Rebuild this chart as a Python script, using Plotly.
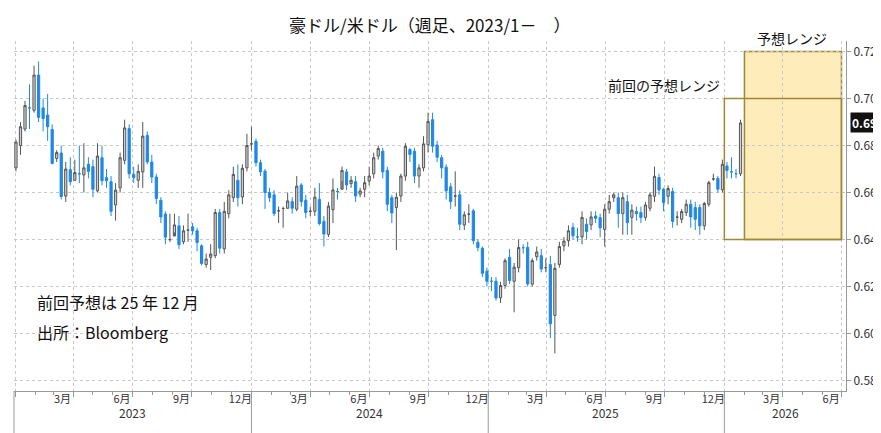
import pandas as pd
import plotly.graph_objects as go

start = "2023-01-02"
opens = [0.6705,0.680,0.687,0.696,0.695,0.710,0.696,0.693,0.6868,0.6745,0.6768,0.6585,0.6697,0.6652,0.668,0.6675,0.672,0.671,0.6607,0.6748,
0.6663,0.6646,0.6547,0.662,0.6737,0.6872,0.6677,0.6652,0.6688,0.6843,0.673,0.6666,0.6567,0.6508,0.6399,0.6415,0.6458,0.6390,0.644,0.6454,
0.6437,0.6373,0.6293,0.6324,0.6331,0.6515,0.636,0.651,0.6578,0.6652,0.6581,0.6705,0.6807,0.6818,0.6727,0.6691,0.660,0.659,0.6522,0.6532,
0.6533,0.6561,0.6529,0.6632,0.6567,0.652,0.652,0.6571,0.6477,0.6422,0.6527,0.6604,0.6614,0.6688,0.6638,0.6646,0.6593,0.6614,0.6649,0.668,
0.6755,0.6776,0.6694,0.6578,0.6536,0.6585,0.667,0.6783,0.6776,0.667,0.6705,0.6803,0.691,0.6802,0.6748,0.6708,0.6624,0.6585,0.659,0.6462,
0.6508,0.6522,0.6388,0.6363,0.6265,0.6222,0.6222,0.6152,0.6204,0.6324,0.6222,0.628,0.6365,0.6366,0.621,0.6327,0.6331,0.628,0.6293,0.6077,
0.6294,0.6373,0.6395,0.6451,0.6411,0.6411,0.6465,0.6462,0.6500,0.6493,0.6443,0.6529,0.6578,0.6578,0.651,0.6561,0.6494,0.6519,0.6515,0.6494,
0.6533,0.6584,0.6664,0.6614,0.6584,0.6604,0.6495,0.6486,0.6515,0.655,0.6536,0.6536,0.6458,0.655,0.6658,0.666,0.6612,0.6713,0.6688,0.668,0.668]
closes = [0.6815,0.688,0.697,0.696,0.710,0.692,0.6915,0.688,0.6724,0.677,0.6583,0.670,0.6646,0.6685,0.668,0.6705,0.669,0.6614,0.6755,0.665,
0.665,0.652,0.661,0.6748,0.6875,0.668,0.6663,0.669,0.684,0.673,0.6666,0.6575,0.6496,0.641,0.640,0.6462,0.6378,0.6437,0.644,0.6437,
0.6387,0.6298,0.6317,0.6338,0.6515,0.6363,0.652,0.659,0.6677,0.6578,0.6703,0.680,0.6807,0.6727,0.6688,0.660,0.6578,0.651,0.6522,0.6532,
0.6564,0.6533,0.6627,0.6561,0.6515,0.652,0.658,0.6468,0.6423,0.6542,0.6611,0.6604,0.6694,0.6632,0.6652,0.6585,0.6607,0.6642,0.667,0.6748,
0.6787,0.6688,0.655,0.6513,0.658,0.667,0.6797,0.6762,0.667,0.6705,0.6807,0.6903,0.6797,0.675,0.6705,0.6607,0.6561,0.6585,0.6465,0.6505,
0.6508,0.6395,0.6366,0.6256,0.6222,0.6222,0.6151,0.6204,0.631,0.6225,0.6282,0.6366,0.6365,0.6211,0.631,0.6347,0.6274,0.628,0.6041,0.6277,
0.637,0.6393,0.6437,0.6416,0.6411,0.6494,0.6434,0.6496,0.649,0.645,0.6529,0.6561,0.659,0.651,0.6578,0.6472,0.6525,0.651,0.6494,0.6547,
0.659,0.6669,0.6611,0.6557,0.6617,0.6477,0.6495,0.6519,0.655,0.6496,0.6486,0.6458,0.6553,0.6642,0.6658,0.6614,0.672,0.6694,0.6688,0.668,0.6896]
highs = [0.6825,0.690,0.699,0.706,0.714,0.7158,0.700,0.702,0.689,0.678,0.680,0.673,0.675,0.674,0.680,0.681,0.675,0.674,0.681,0.680,
0.670,0.667,0.664,0.677,0.691,0.689,0.671,0.672,0.690,0.686,0.676,0.668,0.658,0.652,0.651,0.651,0.650,0.646,0.651,0.647,
0.645,0.638,0.634,0.638,0.653,0.653,0.656,0.661,0.671,0.672,0.672,0.685,0.688,0.683,0.674,0.670,0.662,0.661,0.654,0.654,
0.660,0.658,0.667,0.664,0.659,0.654,0.662,0.664,0.650,0.656,0.666,0.662,0.671,0.670,0.667,0.667,0.662,0.667,0.671,0.677,
0.680,0.679,0.671,0.659,0.660,0.668,0.681,0.679,0.679,0.672,0.684,0.694,0.694,0.682,0.676,0.672,0.664,0.669,0.661,0.652,
0.655,0.653,0.640,0.637,0.628,0.624,0.624,0.622,0.632,0.636,0.630,0.640,0.638,0.639,0.632,0.637,0.636,0.632,0.633,0.630,
0.639,0.641,0.646,0.647,0.645,0.652,0.649,0.652,0.652,0.651,0.655,0.659,0.660,0.660,0.660,0.659,0.655,0.654,0.654,0.656,
0.660,0.671,0.668,0.662,0.663,0.662,0.652,0.653,0.657,0.657,0.656,0.655,0.656,0.665,0.668,0.667,0.674,0.673,0.675,0.670,0.691]
lows = [0.669,0.676,0.686,0.687,0.694,0.690,0.686,0.682,0.672,0.673,0.657,0.656,0.663,0.665,0.664,0.660,0.666,0.658,0.660,0.663,
0.662,0.650,0.648,0.660,0.672,0.666,0.664,0.662,0.662,0.672,0.664,0.655,0.647,0.638,0.639,0.643,0.636,0.638,0.639,0.642,
0.635,0.629,0.628,0.627,0.632,0.634,0.634,0.649,0.656,0.654,0.655,0.669,0.678,0.671,0.667,0.653,0.656,0.650,0.647,0.645,
0.653,0.651,0.652,0.654,0.649,0.650,0.650,0.646,0.637,0.641,0.647,0.657,0.665,0.661,0.662,0.656,0.658,0.658,0.663,0.666,
0.674,0.666,0.652,0.647,0.6355,0.656,0.665,0.673,0.664,0.662,0.669,0.677,0.677,0.673,0.666,0.657,0.653,0.654,0.644,0.644,
0.647,0.638,0.635,0.624,0.620,0.618,0.614,0.613,0.619,0.621,0.609,0.626,0.634,0.620,0.620,0.631,0.626,0.626,0.598,0.5915,
0.628,0.635,0.637,0.640,0.639,0.638,0.640,0.644,0.647,0.641,0.637,0.651,0.656,0.645,0.642,0.642,0.642,0.648,0.647,0.648,
0.652,0.656,0.659,0.652,0.655,0.645,0.646,0.647,0.650,0.645,0.644,0.642,0.644,0.654,0.665,0.660,0.660,0.666,0.666,0.666,0.667]
dates = pd.date_range(start, periods=len(opens), freq="7D")

prev_range = [0.64, 0.70]
new_range = [0.64, 0.72]
last_label = "0.69"
month_labels = ["3月", "6月", "9月", "12月"]
years = [2023, 2024, 2025, 2026]
year_label_pos = ["2023-07-01", "2024-07-01", "2025-07-01", "2026-04-05"]

fig = go.Figure()
fig.add_trace(go.Candlestick(
    x=dates, open=opens, high=highs, low=lows, close=closes,
    increasing=dict(fillcolor="#d0d0d0", line=dict(color="#555555", width=1)),
    decreasing=dict(fillcolor="#1e88e5", line=dict(color="#1e88e5", width=1)),
    whiskerwidth=0, showlegend=False, hoverinfo="skip"))

font = "Noto Sans CJK JP"
shapes = [
    dict(type="rect", xref="x", yref="y", x0="2026-02-01", x1="2026-07-01",
         y0=new_range[0], y1=new_range[1], fillcolor="rgba(253,226,150,0.65)",
         line=dict(color="#a0883a", width=1.5), layer="below"),
    dict(type="rect", xref="x", yref="y", x0="2026-01-01", x1="2026-07-01",
         y0=prev_range[0], y1=prev_range[1], fillcolor="rgba(0,0,0,0)",
         line=dict(color="#a0883a", width=1.5)),
]
for y in years[1:]:
    shapes.append(dict(type="line", xref="x", yref="paper", x0=f"{y}-01-01", x1=f"{y}-01-01",
                       y0=-0.13, y1=0, line=dict(color="#999", width=1)))
shapes.append(dict(type="line", xref="paper", yref="paper", x0=0, x1=0, y0=-0.13, y1=0,
                   line=dict(color="#999", width=1)))

ann = [
    dict(text="豪ドル/米ドル（週足、2023/1－　）", x=0.5, y=1.005, xref="paper", yref="paper",
         xanchor="center", yanchor="bottom", showarrow=False, font=dict(size=17, color="#111")),
    dict(text="予想レンジ", x="2026-04-15", y=0.7205, xref="x", yref="y",
         xanchor="center", yanchor="bottom", showarrow=False, font=dict(size=14, color="#111")),
    dict(text="前回の予想レンジ", x="2025-12-28", y=0.7005, xref="x", yref="y",
         xanchor="right", yanchor="bottom", showarrow=False, font=dict(size=14, color="#111")),
    dict(text="前回予想は 25 年 12 月", x=0.025, y=0.215, xref="paper", yref="paper",
         xanchor="left", showarrow=False, font=dict(size=16, color="#111")),
    dict(text="出所：Bloomberg", x=0.025, y=0.13, xref="paper", yref="paper",
         xanchor="left", showarrow=False, font=dict(size=16, color="#111")),
    dict(text="<b>" + last_label + "</b>", x=1.005, y=closes[-1], xref="paper", yref="y",
         xanchor="left", showarrow=False, bgcolor="#111", font=dict(size=12, color="white"),
         borderpad=1),
]
for y, p in zip(years, year_label_pos):
    ann.append(dict(text=str(y), x=p, y=-0.09, xref="x", yref="paper",
                    showarrow=False, font=dict(size=12, color="#333")))

label_vals, label_txt = [], []
for y in years:
    for m, t in zip([3, 6, 9, 12], month_labels):
        d = pd.Timestamp(f"{y}-{m:02d}-15")
        if d < pd.Timestamp("2026-07-05"):
            label_vals.append(d); label_txt.append(t)

xr = ["2022-12-30", "2026-07-08"]
fig.update_layout(
    width=881, height=433, margin=dict(l=6, r=43, t=33, b=50),
    paper_bgcolor="white", plot_bgcolor="white",
    font=dict(family=font, size=11, color="#333"),
    shapes=shapes, annotations=ann,
    xaxis=dict(type="date", range=xr, rangeslider=dict(visible=False),
               tickvals=[pd.Timestamp(f"{y}-{m:02d}-01") for y in years for m in [1, 4, 7, 10]],
               showticklabels=False, showgrid=True, gridcolor="#c8c8c8", griddash="dot",
               ticks="outside", ticklen=5, tickcolor="#999",
               showline=True, linecolor="#999",
               minor=dict(dtick="M1", ticks="outside", ticklen=3, tickcolor="#999")),
    xaxis2=dict(type="date", range=xr, overlaying="x", side="bottom", anchor="y",
                tickvals=label_vals, ticktext=label_txt, showgrid=False, ticks="",
                tickfont=dict(size=11, color="#333"), showline=False),
    yaxis=dict(side="right", range=[0.5755, 0.7245], dtick=0.02, tickformat=".2f",
               showgrid=True, gridcolor="#c8c8c8", griddash="dot", ticks="outside",
               ticklen=4, tickcolor="#999", showline=True, linecolor="#999",
               tickfont=dict(size=12, color="#333"), zeroline=False),
)
fig.add_trace(go.Scatter(x=[dates[0]], y=[None], xaxis="x2", showlegend=False, hoverinfo="skip"))
fig.write_html("out.html")
